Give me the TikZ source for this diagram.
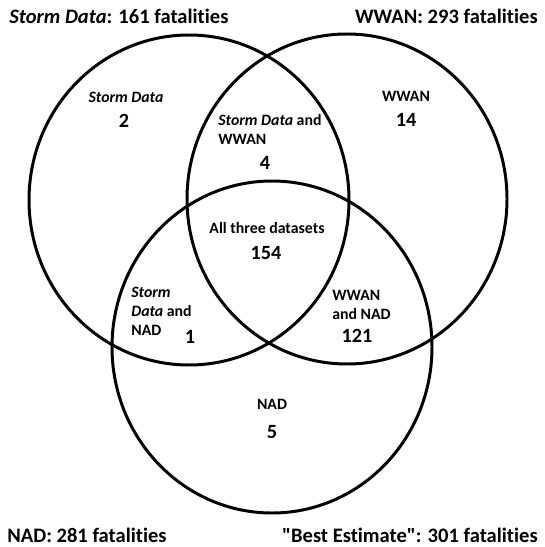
\documentclass[tikz,border=0pt]{standalone}
\usepackage{fontspec}
\setmainfont{Carlito}[Ligatures={NoCommon}]
\begin{document}
\begin{tikzpicture}[x=0.02cm, y=-0.02cm,
    conjunto/.style={line width=1.7pt},
    titulo/.style={font=\fontsize{11.7}{13}\selectfont\bfseries, inner sep=0pt},
    region/.style={font=\fontsize{9}{10.8}\selectfont\bfseries, inner sep=0pt},
    cifra/.style={font=\fontsize{11.5}{13}\selectfont\bfseries, inner sep=0pt}]
  \useasboundingbox (0,0) rectangle (544,547);

  % Conjuntos
  \draw[conjunto] (189,200) ellipse [x radius=160, y radius=165];
  \draw[conjunto] (347,199) ellipse [x radius=160, y radius=165];
  \draw[conjunto] (272,347) ellipse [x radius=160, y radius=166];

  % Totales
  \node[titulo, anchor=west] (tSD) at (9,16) {\textit{Storm Data}: 161 fatalities};
  \node[titulo, anchor=east] (tWW) at (538,16) {WWAN: 293 fatalities};
  \node[titulo, anchor=west] (tNAD) at (7,535) {NAD: 281 fatalities};
  \node[titulo, anchor=east] (tBE) at (538,535) {\textquotedbl Best Estimate\textquotedbl: 301 fatalities};

  % Regiones
  \node[region] (lSD) at (126,97) {\textit{Storm Data}};
  \node[cifra] (nSD) at (124,121) {2};
  \node[region] (lWW) at (406,96) {WWAN};
  \node[cifra] (nWW) at (406,120) {14};
  \node[region, anchor=north west, align=left] (lSDWW) at (218,114) {\textit{Storm Data} and\\WWAN};
  \node[cifra] (nSDWW) at (265,163) {4};
  \node[region] (lAll) at (267,228) {All three datasets};
  \node[cifra] (nAll) at (266,253) {154};
  \node[region, anchor=north west, align=left] (lSDNAD) at (131,287) {\textit{Storm}\\\textit{Data} and\\NAD};
  \node[cifra] (nSDNAD) at (190,337) {1};
  \node[region, anchor=north west, align=left] (lWWNAD) at (332,290) {WWAN\\and NAD};
  \node[cifra] (nWWNAD) at (357,336) {121};
  \node[region] (lNAD) at (272,404) {NAD};
  \node[cifra] (nNAD) at (272,432) {5};
\end{tikzpicture}
\end{document}
